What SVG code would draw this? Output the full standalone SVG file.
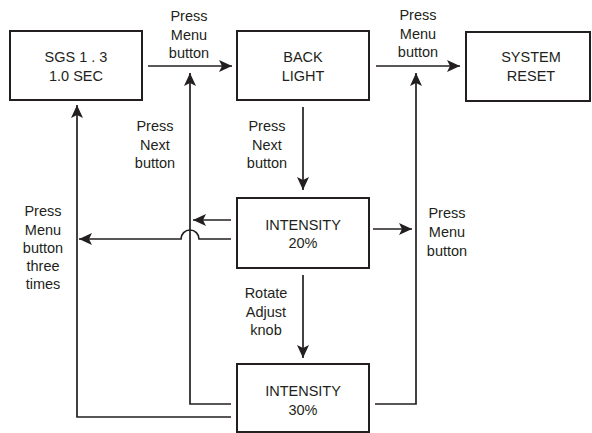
<svg xmlns="http://www.w3.org/2000/svg" width="592" height="433" viewBox="0 0 592 433">
<style>
.box{fill:#fff;stroke:#231f20;stroke-width:2}
.c{fill:none;stroke:#231f20;stroke-width:1.7}
text{font-family:"Liberation Sans",Arial,sans-serif;font-size:14.5px;fill:#231f20;text-anchor:middle}
</style>
<defs>
<marker id="ah" viewBox="0 0 13 12" refX="13" refY="6" markerWidth="13" markerHeight="12" markerUnits="userSpaceOnUse" orient="auto">
<path d="M0,0 L13,6 L0,12 L3,6 Z" fill="#231f20"/>
</marker>
</defs>
<rect width="592" height="433" fill="#fff"/>
<g id="connectors">
<path class="c" d="M148,66 H232" marker-end="url(#ah)"/>
<path class="c" d="M376,66 H460" marker-end="url(#ah)"/>
<path class="c" d="M303,107 V190" marker-end="url(#ah)"/>
<path class="c" d="M303,275 V358" marker-end="url(#ah)"/>
<path class="c" d="M373,229 H412" marker-end="url(#ah)"/>
<path class="c" d="M375,404 H416 V73" marker-end="url(#ah)"/>
<path class="c" d="M231,404 H190 V73" marker-end="url(#ah)"/>
<path class="c" d="M231,417 H77 V105" marker-end="url(#ah)"/>
<path class="c" d="M231,220 H193" marker-end="url(#ah)"/>
<path class="c" d="M231,239 H199 A9,9 0 0 0 181,239 H79" marker-end="url(#ah)"/>
</g>
<g id="labels">
<text x="189" y="21">Press</text><text x="189" y="39.5">Menu</text><text x="189" y="58">button</text>
<text x="418" y="20">Press</text><text x="418" y="38.5">Menu</text><text x="418" y="57">button</text>
<text x="155" y="131">Press</text><text x="155" y="149.5">Next</text><text x="155" y="168">button</text>
<text x="267" y="131">Press</text><text x="267" y="149.5">Next</text><text x="267" y="168">button</text>
<text x="43" y="216">Press</text><text x="43" y="234.5">Menu</text><text x="43" y="252.5">button</text><text x="43" y="271">three</text><text x="43" y="289">times</text>
<text x="266" y="298">Rotate</text><text x="266" y="317">Adjust</text><text x="266" y="335">knob</text>
<text x="447" y="218">Press</text><text x="447" y="237">Menu</text><text x="447" y="256">button</text>
</g>
<g id="sgs">
<rect class="box" x="10" y="31" width="132" height="69"/>
<text x="76" y="62">SGS 1 . 3</text><text x="76" y="81">1.0 SEC</text>
</g>
<g id="backlight">
<rect class="box" x="237" y="31" width="132" height="69"/>
<text x="303" y="62">BACK</text><text x="303" y="81">LIGHT</text>
</g>
<g id="systemreset">
<rect class="box" x="466" y="32" width="124" height="69"/>
<text x="531" y="62">SYSTEM</text><text x="531" y="81">RESET</text>
</g>
<g id="intensity20">
<rect class="box" x="237" y="198" width="132" height="70"/>
<text x="303" y="230">INTENSITY</text><text x="303" y="248">20%</text>
</g>
<g id="intensity30">
<rect class="box" x="237" y="364" width="132" height="68"/>
<text x="303" y="396">INTENSITY</text><text x="303" y="415">30%</text>
</g>
</svg>
